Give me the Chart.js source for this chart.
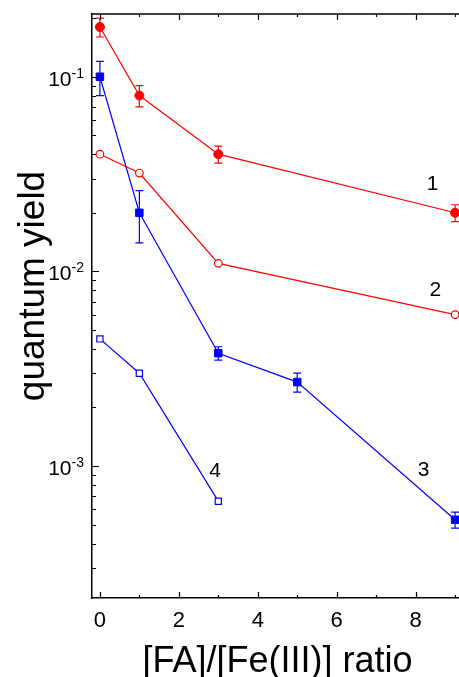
<!DOCTYPE html>
<html>
<head>
<meta charset="utf-8">
<script src="https://cdn.jsdelivr.net/npm/chart.js@4.4.0/dist/chart.umd.min.js"></script>
<style>
  html, body { margin: 0; padding: 0; background: #fff; overflow: hidden; }
  #wrap { position: relative; width: 470px; height: 677px; }
</style>
</head>
<body>
<div id="wrap"><canvas id="chart" width="470" height="677"></canvas></div>
<script>
// series 1: filled red circles
const s1X = [0, 1, 3, 9];
const s1Y = [0.18, 0.080, 0.040, 0.020];
const s1Err = [0.02, 0.010, 0.004, 0.002];
// series 2: open red circles
const s2X = [0, 1, 3, 9];
const s2Y = [0.040, 0.032, 0.011, 0.0060];
// series 3: filled blue squares
const s3X = [0, 1, 3, 5, 9];
const s3Y = [0.10, 0.020, 0.0038, 0.0027, 0.00053];
const s3Err = [0.02, 0.006, 0.0003, 0.0003, 0.00005];
// series 4: open blue squares
const s4X = [0, 1, 3];
const s4Y = [0.0045, 0.0030, 0.00066];

const xMajor = [0, 2, 4, 6, 8];
const xMinor = [1, 3, 5, 7, 9];
const yDecades = [1e-3, 1e-2, 1e-1];
const yExponents = ['-3', '-2', '-1'];
const yTickDecades = [1e-4, 1e-3, 1e-2, 1e-1];
const yMinorMult = [2, 3, 4, 5, 6, 7, 8, 9];

// curve numbers, placed in data units
const curveNames = ['1', '2', '3', '4'];
const curveNameX = [8.43, 8.5, 8.2, 2.92];
const curveNameY = [0.028, 0.0080, 0.00095, 0.00094];

const xTitle = '[FA]/[Fe(III)] ratio';
const yTitle = 'quantum yield';

const RED = '#ff0000';
const BLUE = '#0000ff';
const FONT = '"Liberation Sans", Arial, Helvetica, sans-serif';

const pts = (xs, ys) => xs.map((x, i) => ({ x: x, y: ys[i] }));

const errorBars = [
  { xs: s1X, ys: s1Y, err: s1Err, color: RED },
  { xs: s3X, ys: s3Y, err: s3Err, color: BLUE },
];

const decor = {
  id: 'decor',
  beforeDatasetsDraw(chart) {
    const ctx = chart.ctx;
    const xs = chart.scales.x, ys = chart.scales.y;
    ctx.save();
    ctx.lineWidth = 1.2;
    errorBars.forEach(set => {
      ctx.strokeStyle = set.color;
      set.xs.forEach((x, i) => {
        const px = xs.getPixelForValue(x);
        const top = ys.getPixelForValue(set.ys[i] + set.err[i]);
        const bot = ys.getPixelForValue(set.ys[i] - set.err[i]);
        ctx.beginPath();
        ctx.moveTo(px, top); ctx.lineTo(px, bot);
        ctx.moveTo(px - 4, top); ctx.lineTo(px + 4, top);
        ctx.moveTo(px - 4, bot); ctx.lineTo(px + 4, bot);
        ctx.stroke();
      });
    });
    ctx.restore();
  },
  afterDraw(chart) {
    const ctx = chart.ctx;
    const a = chart.chartArea;
    const xs = chart.scales.x, ys = chart.scales.y;
    ctx.save();
    ctx.strokeStyle = '#000';
    ctx.lineWidth = 1.5;
    // top frame line
    ctx.beginPath();
    ctx.moveTo(a.left, a.top); ctx.lineTo(a.right + 1, a.top);
    ctx.stroke();

    // inward ticks
    ctx.lineWidth = 1.2;
    ctx.beginPath();
    const xTick = (v, len) => {
      const px = Math.round(xs.getPixelForValue(v)) + 0.5;
      ctx.moveTo(px, a.bottom); ctx.lineTo(px, a.bottom - len);
      ctx.moveTo(px, a.top); ctx.lineTo(px, a.top + len);
    };
    xMajor.forEach(v => xTick(v, 6));
    xMinor.forEach(v => xTick(v, 3));
    yTickDecades.forEach(d => {
      const major = ys.getPixelForValue(d);
      if (d >= ys.min && d <= ys.max) {
        ctx.moveTo(a.left, Math.round(major) + 0.5); ctx.lineTo(a.left + 7, Math.round(major) + 0.5);
      }
      yMinorMult.forEach(m => {
        const v = d * m;
        if (v < ys.min || v > ys.max) return;
        const py = Math.round(ys.getPixelForValue(v)) + 0.5;
        ctx.moveTo(a.left, py); ctx.lineTo(a.left + 4, py);
      });
    });
    ctx.stroke();

    ctx.fillStyle = '#000';
    // x tick labels
    ctx.font = '22px ' + FONT;
    ctx.textAlign = 'center';
    ctx.textBaseline = 'alphabetic';
    xMajor.forEach(v => ctx.fillText(String(v), xs.getPixelForValue(v), a.bottom + 29));

    // y tick labels 10^n
    yDecades.forEach((d, i) => {
      const py = ys.getPixelForValue(d);
      ctx.font = '14px ' + FONT;
      ctx.textAlign = 'right';
      const expW = ctx.measureText(yExponents[i]).width;
      const expRight = a.left - 8;
      ctx.fillText(yExponents[i], expRight, py + 1);
      ctx.font = '21px ' + FONT;
      ctx.fillText('10', expRight - expW, py + 9);
    });

    // curve numbers
    ctx.font = '21px ' + FONT;
    ctx.textAlign = 'center';
    ctx.textBaseline = 'middle';
    curveNames.forEach((n, i) => {
      ctx.fillText(n, xs.getPixelForValue(curveNameX[i]), ys.getPixelForValue(curveNameY[i]));
    });

    // axis titles
    ctx.font = '36px ' + FONT;
    ctx.textAlign = 'center';
    ctx.textBaseline = 'alphabetic';
    ctx.fillText(xTitle, (a.left + a.right) / 2, 672);
    ctx.translate(44, 286);
    ctx.rotate(-Math.PI / 2);
    ctx.font = '37px ' + FONT;
    ctx.fillText(yTitle, 0, 0);
    ctx.restore();
  }
};

new Chart(document.getElementById('chart'), {
  type: 'scatter',
  data: {
    datasets: [
      {
        data: pts(s1X, s1Y), showLine: true, borderColor: RED, borderWidth: 1.2,
        pointStyle: 'circle', pointRadius: 4.5, pointBackgroundColor: RED, pointBorderColor: RED, pointBorderWidth: 1
      },
      {
        data: pts(s2X, s2Y), showLine: true, borderColor: RED, borderWidth: 1.2,
        pointStyle: 'circle', pointRadius: 3.8, pointBackgroundColor: '#fff', pointBorderColor: RED, pointBorderWidth: 1.2
      },
      {
        data: pts(s3X, s3Y), showLine: true, borderColor: BLUE, borderWidth: 1.2,
        pointStyle: 'rect', pointRadius: 5.3, pointBackgroundColor: BLUE, pointBorderColor: BLUE, pointBorderWidth: 1
      },
      {
        data: pts(s4X, s4Y), showLine: true, borderColor: BLUE, borderWidth: 1.2,
        pointStyle: 'rect', pointRadius: 4.4, pointBackgroundColor: '#fff', pointBorderColor: BLUE, pointBorderWidth: 1.2
      }
    ]
  },
  options: {
    responsive: false,
    animation: false,
    devicePixelRatio: 1,
    layout: { padding: { top: 14, right: 7, left: 0, bottom: 0 } },
    plugins: { legend: { display: false }, tooltip: { enabled: false } },
    scales: {
      x: {
        type: 'linear', position: 'bottom', min: -0.2, max: 9.2,
        grid: { display: false },
        border: { display: true, color: '#000', width: 1.5 },
        ticks: { display: false },
        afterFit: s => { s.height = 79; }
      },
      y: {
        type: 'logarithmic', position: 'left', min: 2.1e-4, max: 0.21,
        grid: { display: false },
        border: { display: true, color: '#000', width: 1.5 },
        ticks: { display: false },
        afterFit: s => { s.width = 92; }
      }
    }
  },
  plugins: [decor]
});
</script>
</body>
</html>
